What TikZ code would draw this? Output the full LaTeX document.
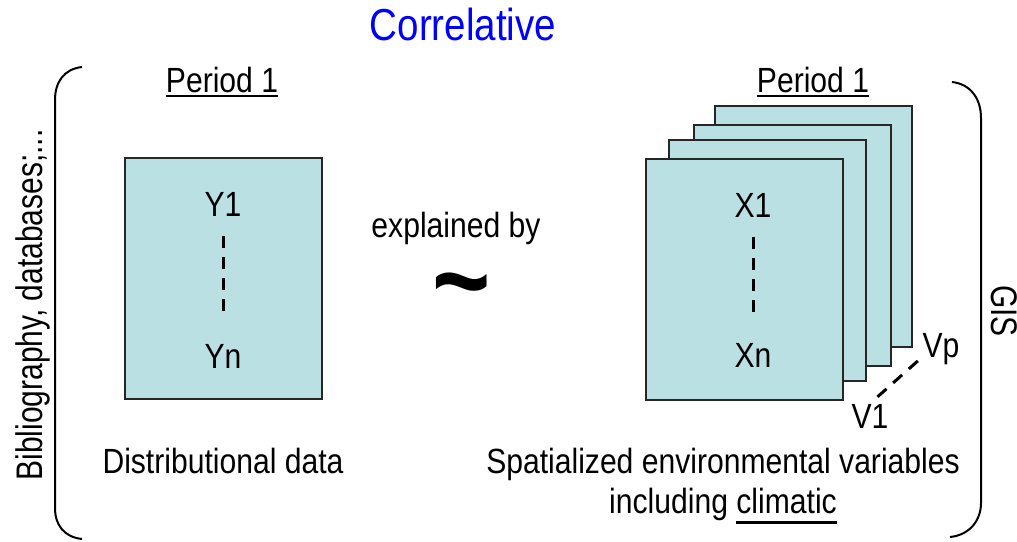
\documentclass[tikz,border=0pt]{standalone}
\usepackage{fontspec}
\setmainfont{Liberation Sans}[FakeStretch=0.86]
\newfontfamily\sidefont{Liberation Sans}[FakeStretch=0.81]
\definecolor{layerfill}{RGB}{187,224,227}
\newcommand{\ulined}[2][2.6pt]{\leavevmode\setbox0\hbox{#2}\rlap{\rule[-#1]{\wd0}{1.35pt}}\box0}

\begin{document}
\begin{tikzpicture}[x=0.5pt, y=-0.5pt,
    layer/.style={draw=black!85, line width=1pt, fill=layerfill, minimum width=98.5pt, minimum height=120.5pt, inner sep=0pt},
    txt/.style={inner sep=0pt, font=\fontsize{17.5}{20}\selectfont},
    side/.style={inner sep=0pt, font=\sidefont\fontsize{18.5}{20}\selectfont, anchor=base},
    dots/.style={dash pattern=on 6pt off 4.5pt, line width=1.5pt}]
    \useasboundingbox (0,0) rectangle (1017,541);
    \node[txt, text=blue, font=\fontsize{22.4}{26}\selectfont, anchor=base] (title) at (463,40) {Correlative};
    % brackets
    \draw[line width=1pt] (82,67) .. controls (64,69) and (55,82) .. (55,100) -- (55,508) .. controls (55,525) and (64,537) .. (82,539);
    \draw[line width=1pt] (952,82) .. controls (970,84) and (981,98) .. (981,118) -- (981,503) .. controls (981,520) and (970,535) .. (950,537);
    \node[side, rotate=90] (biblio) at (42,305) {Bibliography, databases;...};
    \node[side, rotate=-90] (gis) at (991,311) {GIS};
    % distribution side
    \node[txt, anchor=base] (pery) at (222,92) {\ulined{Period 1}};
    \node[layer] (ybox) at (223,278) {};
    \node[txt, anchor=base] (y1) at (223,216) {Y1};
    \node[txt, anchor=base] (yn) at (223,368) {Yn};
    \draw[dots, shorten <=10pt, shorten >=13pt] (y1.south) -- (yn.north);
    \node[txt, anchor=base] (ydesc) at (223,473) {Distributional data};
    % middle
    \node[txt, anchor=base] (expl) at (456,237) {explained by};
    \node[inner sep=0pt, font=\fontsize{58}{58}\selectfont\bfseries, anchor=base] (tilde) at (462,320) {\textasciitilde};
    % environmental layers
    \node[txt, anchor=base] (perx) at (813,92) {\ulined{Period 1}};
    \node[layer] (l4) at (813.5,226) {};
    \node[layer] (l3) at (792,245) {};
    \node[layer] (l2) at (767.5,260.5) {};
    \node[layer] (xbox) at (744,279.5) {};
    \node[txt, anchor=base] (x1) at (753,217) {X1};
    \node[txt, anchor=base] (xn) at (753,367) {Xn};
    \draw[dots, shorten <=10pt, shorten >=13pt] (x1.south) -- (xn.north);
    \node[txt, anchor=base] (v1) at (870,428) {V1};
    \node[txt, anchor=base] (vp) at (941,357) {Vp};
    \draw[dots, shorten <=5pt] (v1.north) -- (vp.base west);
    \node[txt, anchor=base, align=center] (xdesc) at (723,513) {Spatialized environmental variables\\including \ulined[5.3pt]{climatic}};
\end{tikzpicture}
\end{document}
